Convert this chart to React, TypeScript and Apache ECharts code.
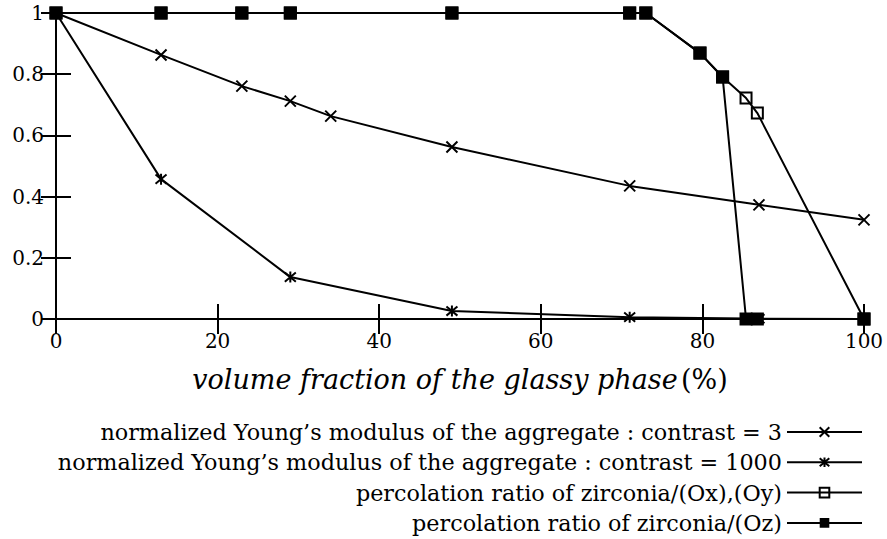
import React, { useEffect, useRef } from "react";
import * as echarts from "echarts";

const xTicks = [0, 20, 40, 60, 80, 100];
const fracA = [0, 13, 23, 29, 34, 49, 71, 87, 100];
const youngC3 = [1, 0.863, 0.761, 0.712, 0.663, 0.562, 0.435, 0.373, 0.324];
const fracB = [0, 13, 29, 49, 71, 85.5, 87, 100];
const youngC1000 = [1, 0.457, 0.137, 0.026, 0.006, 0.002, 0.001, 0];
const fracP = [0, 13, 23, 29, 49, 71, 73, 79.7, 82.5, 85.4, 86.8, 100];
const percXY = [1, 1, 1, 1, 1, 1, 1, 0.869, 0.791, 0.722, 0.673, 0];
const percZ = [1, 1, 1, 1, 1, 1, 1, 0.869, 0.791, 0, 0, 0];

const names = [
  "normalized Young\u2019s modulus of the aggregate : contrast = 3",
  "normalized Young\u2019s modulus of the aggregate : contrast = 1000",
  "percolation ratio of zirconia/(Ox),(Oy)",
  "percolation ratio of zirconia/(Oz)",
];

const FONT = "DejaVu Serif";
const CROSS = "path://M0,0L10,10M10,0L0,10";
const STAR = "path://M0,0L10,10M10,0L0,10M5,-1L5,11";

const pairs = (xs: number[], ys: number[]) => xs.map((x, i) => [x, ys[i]]);

export default function App() {
  const ref = useRef<HTMLDivElement>(null);
  useEffect(() => {
    const chart = echarts.init(ref.current!, null, { renderer: "svg" });
    const axisLine = { show: true, lineStyle: { color: "#000", width: 2 } };
    const tick = { show: true, inside: true, length: 15, lineStyle: { color: "#000", width: 2 } };
    const lineSeries = (name: string, data: number[][], symbol: string, size: number, item: any) => ({
      name,
      type: "line",
      data,
      symbol,
      symbolSize: size,
      showSymbol: true,
      lineStyle: { color: "#000", width: 2 },
      itemStyle: item,
      z: 3,
    });
    chart.setOption({
      animation: false,
      backgroundColor: "#fff",
      grid: { left: 56, right: 23, top: 13, bottom: 220, containLabel: false },
      xAxis: [
        {
          type: "value",
          min: 0,
          max: 100,
          interval: 20,
          axisLine,
          axisTick: tick,
          splitLine: { show: false },
          axisLabel: {
            margin: 12,
            color: "#000",
            fontFamily: FONT,
            fontSize: 20,
            formatter: (v: number) => (xTicks.includes(v) ? String(v) : ""),
          },
          name: "{i|volume fraction of the glassy phase} {n|(%)}",
          nameLocation: "middle",
          nameGap: 47,
          nameTextStyle: {
            rich: {
              i: { fontFamily: FONT, fontStyle: "italic", fontSize: 27, color: "#000" },
              n: { fontFamily: FONT, fontSize: 27, color: "#000" },
            },
          },
        },
        {
          type: "value",
          position: "top",
          min: 0,
          max: 100,
          interval: 20,
          axisLine,
          axisTick: tick,
          axisLabel: { show: false },
          splitLine: { show: false },
        },
      ],
      yAxis: [
        {
          type: "value",
          min: 0,
          max: 1,
          interval: 0.2,
          axisLine,
          axisTick: tick,
          splitLine: { show: false },
          axisLabel: { margin: 12, color: "#000", fontFamily: FONT, fontSize: 20 },
        },
        {
          type: "value",
          position: "right",
          min: 0,
          max: 1,
          interval: 0.2,
          axisLine,
          axisTick: tick,
          axisLabel: { show: false },
          splitLine: { show: false },
        },
      ],
      legend: {
        orient: "vertical",
        right: 19,
        top: 416,
        align: "right",
        itemWidth: 75,
        itemHeight: 12,
        itemGap: 8.3,
        textStyle: { fontFamily: FONT, fontSize: 22.3, color: "#000" },
        data: names,
      },
      series: [
        lineSeries(names[0], pairs(fracA, youngC3), CROSS, 11, { color: "#000", borderColor: "#000", borderWidth: 2 }),
        lineSeries(names[1], pairs(fracB, youngC1000), STAR, 11, { color: "#000", borderColor: "#000", borderWidth: 2 }),
        lineSeries(names[2], pairs(fracP, percXY), "rect", 11, { color: "rgba(0,0,0,0)", borderColor: "#000", borderWidth: 2 }),
        lineSeries(names[3], pairs(fracP, percZ), "rect", 13, { color: "#000", borderColor: "#000", borderWidth: 0 }),
      ],
    });
    return () => chart.dispose();
  }, []);
  return (
    <div
      ref={ref}
      style={{ position: "absolute", left: 0, top: 0, width: 887, height: 539 }}
    />
  );
}
